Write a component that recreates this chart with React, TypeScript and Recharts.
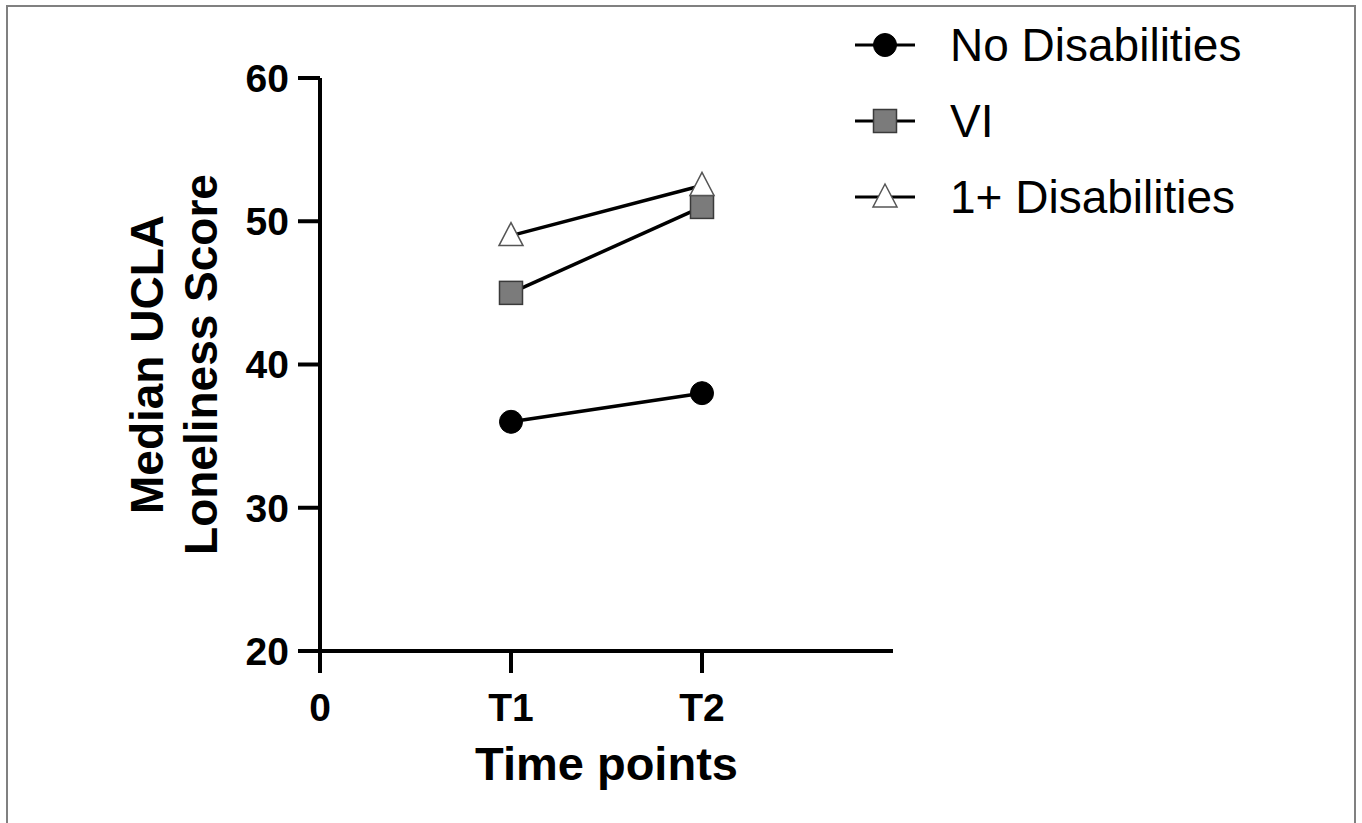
import { LineChart, Line, XAxis, YAxis, Legend } from 'recharts'

const tickLabels = ['0', 'T1', 'T2']
const timePoints = [1, 2]
const noDisabilities = [36, 38]
const visualImpairment = [45, 51]
const onePlusDisabilities = [49, 52.5]
const yTicks = [20, 30, 40, 50, 60]

const data = timePoints.map((t, i) => ({
    t,
    none: noDisabilities[i],
    vi: visualImpairment[i],
    plus: onePlusDisabilities[i],
}))

const FONT = "'Liberation Sans', Arial, Helvetica, sans-serif"

type Shape = 'circle' | 'square' | 'triangle'

const Marker = ({ shape, cx, cy }: { shape: Shape; cx: number; cy: number }) => {
    if (shape === 'circle') return <circle cx={cx} cy={cy} r={11.5} fill="#000" stroke="#000" />
    if (shape === 'square')
        return <rect x={cx - 11.5} y={cy - 11.5} width={23} height={23} fill="#7b7b7b" stroke="#3a3a3a" strokeWidth={1.5} />
    return (
        <polygon
            points={`${cx},${cy - 13} ${cx - 12},${cy + 10} ${cx + 12},${cy + 10}`}
            fill="#fff"
            stroke="#555"
            strokeWidth={1.5}
        />
    )
}

const dotFor = (shape: Shape) => (props: any) => (
    <Marker key={`${shape}-${props.index}`} shape={shape} cx={props.cx} cy={props.cy} />
)

const legendItems: { name: string; shape: Shape }[] = [
    { name: 'No Disabilities', shape: 'circle' },
    { name: 'VI', shape: 'square' },
    { name: '1+ Disabilities', shape: 'triangle' },
]

const renderLegend = () => (
    <div style={{ fontFamily: FONT }}>
        {legendItems.map((item) => (
            <div key={item.name} style={{ display: 'flex', alignItems: 'center', height: 76 }}>
                <svg width={64} height={30} style={{ marginRight: 33 }}>
                    <line x1={2} y1={15} x2={62} y2={15} stroke="#000" strokeWidth={3} />
                    <Marker shape={item.shape} cx={32} cy={15} />
                </svg>
                <span style={{ fontSize: 46, color: '#000', whiteSpace: 'nowrap' }}>{item.name}</span>
            </div>
        ))}
    </div>
)

const yTitle = (props: any) => {
    const { x, y, height } = props.viewBox
    const cy = y + height / 2
    const x1 = x - 77
    const x2 = x - 23
    return (
        <g fontFamily={FONT} fontWeight={700} fontSize={46} fill="#000">
            <text x={x1} y={cy} textAnchor="middle" transform={`rotate(-90, ${x1}, ${cy})`}>
                Median UCLA
            </text>
            <text x={x2} y={cy} textAnchor="middle" transform={`rotate(-90, ${x2}, ${cy})`}>
                Loneliness Score
            </text>
        </g>
    )
}

const xTitle = (props: any) => {
    const { x, y, width } = props.viewBox
    return (
        <text x={x + width / 2} y={y + 129} textAnchor="middle" fontFamily={FONT} fontWeight={700} fontSize={47} fill="#000">
            Time points
        </text>
    )
}

export default function App() {
    return (
        <div
            style={{
                position: 'absolute',
                left: 6,
                top: 5,
                width: 1346,
                height: 830,
                border: '2px solid #808080',
                borderBottom: 'none',
                background: '#fff',
            }}
        >
            <LineChart width={1346} height={816} data={data} margin={{ top: 71, right: 461, bottom: 92, left: 232 }}>
                <XAxis
                    dataKey="t"
                    type="number"
                    domain={[0, 3]}
                    ticks={[0, 1, 2]}
                    tickFormatter={(v: number) => tickLabels[v]}
                    height={80}
                    tickSize={22}
                    tickMargin={20}
                    axisLine={{ stroke: '#000', strokeWidth: 4 }}
                    tickLine={{ stroke: '#000', strokeWidth: 4 }}
                    tick={{ fill: '#000', fontSize: 39, fontWeight: 700, fontFamily: FONT }}
                    label={xTitle}
                />
                <YAxis
                    type="number"
                    domain={[20, 60]}
                    ticks={yTicks}
                    width={80}
                    tickSize={22}
                    tickMargin={9}
                    axisLine={{ stroke: '#000', strokeWidth: 4 }}
                    tickLine={{ stroke: '#000', strokeWidth: 4 }}
                    tick={{ fill: '#000', fontSize: 39, fontWeight: 700, fontFamily: FONT }}
                    label={yTitle}
                />
                <Legend
                    content={renderLegend}
                    layout="vertical"
                    verticalAlign="middle"
                    align="center"
                    wrapperStyle={{ top: 0, left: 845, width: 480 }}
                />
                <Line dataKey="none" name="No Disabilities" stroke="#000" strokeWidth={3.5} dot={dotFor('circle')} isAnimationActive={false} />
                <Line dataKey="vi" name="VI" stroke="#000" strokeWidth={3.5} dot={dotFor('square')} isAnimationActive={false} />
                <Line dataKey="plus" name="1+ Disabilities" stroke="#000" strokeWidth={3.5} dot={dotFor('triangle')} isAnimationActive={false} />
            </LineChart>
        </div>
    )
}
